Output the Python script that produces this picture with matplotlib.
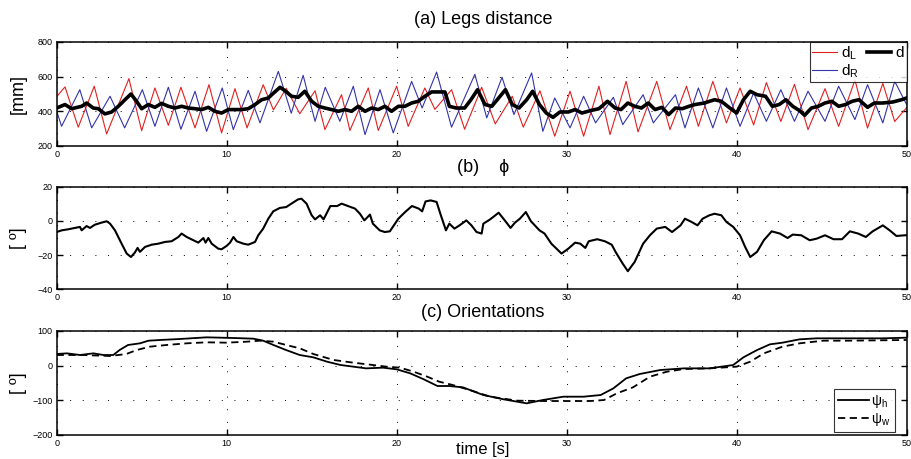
import matplotlib
matplotlib.use("Agg")
import matplotlib.pyplot as plt

plt.rcParams["font.family"] = ["Liberation Sans", "DejaVu Sans"]
plt.rcParams["mathtext.fontset"] = "custom"
plt.rcParams["mathtext.rm"] = "Liberation Sans"

# (a) legs distance [mm]
t_left = [0, 0.49, 1.27, 2.21, 2.94, 4.25, 5.0, 5.78, 6.57, 7.31, 8.14, 8.96, 9.7,
          10.49, 11.2, 12.15, 12.75, 13.5, 14.3, 15.2, 15.78, 16.76, 17.25, 18.33,
          18.92, 20.0, 20.68, 21.66, 22.25, 23.23, 24.0, 25.0, 25.8, 26.8, 27.45,
          28.43, 29.3, 30.2, 31.0, 31.9, 32.55, 33.5, 34.2, 35.3, 36.08, 37.05,
          37.75, 38.6, 39.4, 40.2, 41.0, 41.75, 42.6, 43.4, 44.2, 45.2, 46.0,
          46.96, 47.7, 48.6, 49.3, 50.0]
d_left = [484, 540, 307, 544, 268, 588, 287, 534, 318, 538, 303, 553, 274,
          530, 303, 553, 407, 532, 385, 518, 293, 495, 288, 534,
          288, 544, 312, 534, 410, 524, 295, 538, 326, 486, 307,
          518, 255, 515, 255, 544, 264, 572, 280, 572, 293, 544,
          312, 572, 332, 534, 320, 565, 340, 555, 293, 530, 312,
          580, 302, 560, 340, 420]

t_right = [0, 0.29, 1.36, 2.06, 3.14, 4.0, 5.04, 5.78, 6.57, 7.31, 8.14, 8.82,
           9.74, 10.39, 11.27, 11.96, 13.04, 13.8, 14.5, 15.2, 15.8, 16.66, 17.45,
           18.14, 19.02, 19.8, 20.88, 21.5, 22.35, 23.23, 24.6, 25.3, 26.2, 26.9,
           27.94, 28.6, 29.3, 30.2, 31.0, 31.7, 32.75, 33.3, 34.5, 35.1, 36.4,
           36.96, 37.75, 38.6, 39.4, 40.2, 41.0, 41.75, 42.6, 43.4, 44.2, 45.2,
           46.0, 46.96, 47.7, 48.6, 49.3, 50.0]
d_right = [400, 312, 524, 303, 486, 303, 524, 312, 538, 295, 515, 283,
           534, 293, 520, 332, 630, 388, 607, 341, 538, 341, 544,
           264, 524, 274, 572, 418, 626, 307, 613, 361, 596, 380,
           621, 283, 476, 303, 486, 332, 480, 322, 495, 332, 495,
           303, 534, 303, 534, 312, 505, 341, 524, 341, 515, 341,
           544, 351, 553, 332, 572, 438]

t_d = [0, 0.49, 0.88, 1.47, 1.76, 2.15, 2.45, 2.84, 3.23, 3.63, 4.02, 4.37, 4.7,
       5.0, 5.39, 5.78, 6.17, 6.57, 6.96, 7.35, 7.74, 8.14, 8.53, 8.92, 9.31,
       9.7, 10.1, 10.49, 10.88, 11.27, 11.67, 12.06, 12.45, 12.65, 13.14, 13.43,
       13.82, 14.21, 14.6, 15.0, 15.39, 15.78, 16.17, 16.57, 16.96, 17.35, 17.74,
       18.14, 18.53, 18.92, 19.31, 19.7, 20.1, 20.49, 20.88, 21.27, 21.66, 22.06,
       22.45, 22.84, 23.1, 23.5, 24.0, 24.37, 24.76, 25.2, 25.6, 26.0, 26.4,
       26.8, 27.2, 27.65, 28.0, 28.4, 28.8, 29.2, 29.6, 30.1, 30.5, 30.9, 31.4,
       31.9, 32.4, 32.85, 33.2, 33.6, 34.0, 34.4, 34.8, 35.2, 35.6, 36.0, 36.4,
       36.8, 37.2, 37.55, 38.1, 38.7, 39.1, 39.6, 40.0, 40.4, 40.8, 41.2, 41.7,
       42.1, 42.5, 42.9, 43.3, 43.7, 44.0, 44.4, 44.8, 45.2, 45.6, 46.0, 46.4,
       46.8, 47.2, 47.7, 48.1, 48.6, 49.2, 49.7, 50.0]
d_mean = [418, 438, 414, 428, 447, 418, 414, 384, 395, 428, 466, 499, 457,
          414, 438, 422, 445, 428, 418, 428, 418, 414, 409, 422, 399,
          389, 409, 409, 409, 414, 438, 466, 476, 495, 538, 518,
          486, 480, 515, 457, 428, 418, 409, 399, 409, 399, 428,
          399, 418, 409, 428, 399, 428, 428, 447, 457, 486, 511,
          511, 511, 428, 418, 418, 466, 524, 438, 428, 476, 524,
          438, 418, 466, 515, 438, 389, 364, 395, 395, 409, 389, 403,
          414, 457, 418, 409, 447, 428, 418, 447, 409, 422, 380, 418,
          414, 428, 438, 447, 466, 457, 418, 389, 466, 515, 495, 486,
          428, 438, 466, 428, 403, 376, 418, 428, 447, 457, 428, 438,
          457, 466, 422, 447, 447, 453, 466, 476]

# (b) phi [deg]
t_phi = [0, 0.3, 0.68, 1.08, 1.37, 1.47, 1.76, 1.96, 2.25, 2.64, 2.94, 3.14,
         3.43, 3.82, 4.12, 4.37, 4.6, 4.76, 4.9, 5.2, 5.59, 5.98, 6.37, 6.76,
         7.16, 7.35, 7.65, 8.04, 8.33, 8.63, 8.76, 8.92, 9.12, 9.5, 9.7, 10.0,
         10.2, 10.4, 10.59, 10.98, 11.27, 11.67, 11.86, 12.15, 12.45, 12.74,
         13.13, 13.5, 13.9, 14.2, 14.4, 14.7, 15.0, 15.2, 15.5, 15.7, 15.9,
         16.1, 16.5, 16.76, 17.15, 17.55, 17.84, 18.1, 18.43, 18.6, 19.0, 19.3,
         19.6, 19.9, 20.1, 20.5, 20.9, 21.3, 21.5, 21.7, 22.0, 22.35, 22.6,
         22.9, 23.1, 23.4, 23.7, 24.1, 24.4, 24.7, 25.0, 25.1, 25.5, 26.0, 26.4,
         26.7, 26.96, 27.25, 27.6, 27.9, 28.4, 28.7, 29.1, 29.7, 30.1, 30.5,
         30.8, 31.1, 31.3, 31.8, 32.25, 32.65, 32.9, 33.3, 33.6, 34.0, 34.5,
         34.9, 35.3, 35.8, 36.2, 36.7, 36.96, 37.35, 37.7, 38.0, 38.4, 38.7,
         39.1, 39.4, 39.8, 40.2, 40.5, 40.8, 41.2, 41.6, 42.06, 42.55, 43.0,
         43.3, 43.8, 44.3, 44.7, 45.2, 45.7, 46.2, 46.66, 47.15, 47.6, 48.0,
         48.6, 49.0, 49.4, 49.9, 50.0]
phi = [-6.5, -5.5, -4.9, -4.1, -3.5, -5.5, -3.0, -4.1, -2.2, -1.0, -0.2, -1.6,
       -5.5, -13.3, -19.1, -21.1, -18.5, -15.8, -18.1, -15.2, -13.9, -13.3,
       -12.3, -11.9, -9.4, -7.4, -9.4, -11.3, -12.7, -10.0, -12.7, -10.0,
       -13.3, -16.2, -16.6, -14.6, -12.7, -9.4, -11.9, -13.3, -13.9, -12.3,
       -8.4, -4.5, 1.3, 5.6, 7.6, 8.1, 10.7, 12.6, 13.0, 10.1, 3.3, 0.9, 3.3,
       0.9, 4.8, 8.7, 8.7, 10.1, 8.7, 7.2, 4.2, 0.3, 3.7, -1.6, -5.5, -6.5,
       -6.1, -1.6, 1.3, 5.2, 8.7, 7.2, 5.6, 11.4, 12.0, 11.1, 3.3, -5.5, -1.6,
       -4.5, -2.6, 0.3, -2.6, -6.5, -7.4, -1.6, 0.9, 4.8, -0.2, -4.1, -1.0,
       1.3, 5.2, -0.2, -5.5, -7.4, -13.3, -19.1, -16.2, -12.7, -13.3, -15.8,
       -11.9, -10.7, -11.9, -13.9, -18.5, -25.0, -29.4, -24.0, -13.3, -8.4,
       -4.5, -3.5, -6.5, -2.6, 1.3, -0.6, -2.6, 1.3, 3.3, 4.2, 3.3, -0.6, -3.5,
       -8.4, -15.2, -21.1, -18.1, -11.3, -6.1, -7.4, -10.0, -8.0, -8.4, -11.3,
       -10.4, -8.4, -10.7, -10.7, -6.1, -7.4, -9.4, -6.1, -2.6, -5.5, -8.8,
       -8.4, -8.4]

# (c) orientations [deg]
t_psi_h = [0, 0.6, 1.37, 2.16, 2.75, 3.33, 3.7, 4.2, 4.9, 5.4, 6.08, 7.25, 8.82,
           10.4, 11.57, 12.15, 12.75, 13.5, 14.3, 15.1, 15.9, 16.7, 17.45, 18.2,
           19.2, 20.0, 20.8, 21.6, 22.4, 23.1, 23.9, 25.1, 26.3, 27.65, 28.6,
           29.8, 31.0, 32.0, 32.75, 33.5, 34.3, 35.5, 36.9, 38.4, 39.8, 40.4,
           41.2, 41.96, 42.7, 43.7, 44.7, 46.6, 48.6, 50.0]
psi_h = [33.6, 35.5, 30.7, 35.5, 30.7, 30.7, 45, 59.6, 64.4, 72, 74, 76.9, 81.7,
         79.8, 77.8, 72, 59.6, 45, 30.7, 24, 11.5, 1.9, -2.9, -7.8,
         -5.8, -10.6, -22.2, -39.5, -58.7, -58.7, -62.6, -84.7, -97.2, -108.7,
         -99.1, -89.5, -89.5, -84.7, -65.5, -36.6, -24.1, -12.6, -7.8, -7.8,
         1.9, 24, 45, 61.5, 66.3, 75.9, 78.8, 78.8, 78.8, 80.7]

t_psi_w = [0, 1.57, 3.14, 4.1, 4.7, 5.49, 6.47, 7.65, 8.82, 10.0, 11.2, 11.96,
           12.75, 13.5, 14.3, 15.1, 16.3, 17.45, 18.6, 19.4, 20.2, 21.0, 21.8,
           22.5, 23.3, 24.3, 25.5, 27.1, 28.6, 29.8, 31.4, 32.2, 32.95, 33.9,
           34.9, 35.9, 36.9, 38.4, 40.0, 40.8, 41.6, 42.7, 43.7, 45.1, 46.6, 50.0]
psi_w = [30.7, 30.7, 27.8, 33.6, 45, 54.8, 59.6, 64.4, 67.3, 66.3, 69.2, 72,
         69.2, 59.6, 50, 33.6, 16.3, 8.6, 1.9, -2.9, -5.8, -17.4, -31.8,
         -46.2, -55.8, -70.3, -89.5, -101, -102, -102, -102, -99.1, -79.9, -62.6,
         -31.8, -17.4, -9.7, -7.8, -2.9, 11.5, 35.5, 54.8, 64.4, 72, 72, 74]

x_ticks = [0, 10, 20, 30, 40, 50]


def style_axis(ax, yticks):
    ax.set_xlim(0, 50)
    ax.set_ylim(yticks[0], yticks[-1])
    ax.set_xticks(x_ticks)
    ax.set_yticks(yticks)
    ax.tick_params(direction="in", top=True, right=True, length=4, width=1,
                   labelsize=6.5, pad=3)
    ax.grid(True, color="black", linestyle=(0, (1, 12)), linewidth=0.7)
    for s in ax.spines.values():
        s.set_linewidth(1.1)


fig = plt.figure(figsize=(9.11, 4.59), dpi=100)
ax1 = fig.add_axes([0.0622, 0.6826, 0.933, 0.2259])
ax2 = fig.add_axes([0.0622, 0.3697, 0.933, 0.2235])
ax3 = fig.add_axes([0.0622, 0.0523, 0.933, 0.2266])

ax1.plot(t_left, d_left, color="#e02020", linewidth=0.8, label=r"d$_\mathrm{L}$")
ax1.plot(t_right, d_right, color="#3333aa", linewidth=0.8, label=r"d$_\mathrm{R}$")
ax1.plot(t_d, d_mean, color="black", linewidth=2.6, label="d")
style_axis(ax1, [200, 400, 600, 800])
leg = ax1.legend(loc="upper right", ncol=2, fontsize=11, frameon=True, fancybox=False,
                 borderpad=0.15, labelspacing=0.0, handlelength=1.6, handletextpad=0.3,
                 columnspacing=0.5, borderaxespad=0.0)
leg.get_frame().set_edgecolor("black")
leg.get_frame().set_linewidth(0.8)

ax2.plot(t_phi, phi, color="black", linewidth=1.5)
style_axis(ax2, [-40, -20, 0, 20])

ax3.plot(t_psi_h, psi_h, color="black", linewidth=1.3, label="ψ$_\\mathrm{h}$")
ax3.plot(t_psi_w, psi_w, color="black", linewidth=1.3, dashes=(4, 2.5),
         label="ψ$_\\mathrm{w}$")
style_axis(ax3, [-200, -100, 0, 100])
leg3 = ax3.legend(loc="lower right", bbox_to_anchor=(0.986, 0.03), fontsize=10,
                  frameon=True, fancybox=False, borderpad=0.3, labelspacing=0.05,
                  handlelength=2.2, handletextpad=0.2, borderaxespad=0.0)
leg3.get_frame().set_edgecolor("black")
leg3.get_frame().set_linewidth(0.8)

fig.text(0.530, 0.958, "(a) Legs distance", ha="center", va="center", fontsize=13)
fig.text(0.530, 0.634, "(b)    ϕ", ha="center", va="center", fontsize=13)
fig.text(0.530, 0.320, "(c) Orientations", ha="center", va="center", fontsize=13)
fig.text(0.530, 0.020, "time [s]", ha="center", va="center", fontsize=12)
fig.text(0.020, 0.795, "[mm]", rotation=90, ha="center", va="center", fontsize=13)
fig.text(0.020, 0.481, "[ º]", rotation=90, ha="center", va="center", fontsize=13)
fig.text(0.020, 0.166, "[ º]", rotation=90, ha="center", va="center", fontsize=13)

fig.savefig("out.png", dpi=100)
